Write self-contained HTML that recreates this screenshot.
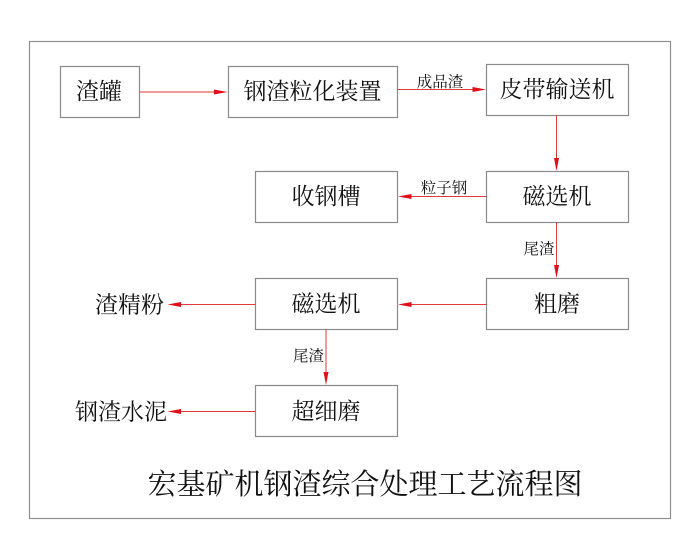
<!DOCTYPE html>
<html>
<head>
<meta charset="utf-8">
<style>
html,body{margin:0;padding:0;background:#fff;}
svg{display:block;}
text{font-family:"Noto Serif CJK SC","Noto Serif CJK JP","Noto Serif CJK TC","Liberation Serif",serif;fill:#111;}
</style>
</head>
<body>
<svg width="700" height="560" viewBox="0 0 700 560" xmlns="http://www.w3.org/2000/svg">
<rect x="0" y="0" width="700" height="560" fill="#fff"/>
<!-- frame -->
<rect x="29.5" y="41.5" width="641" height="477" fill="none" stroke="#8f8f8f" stroke-width="1.2"/>

<!-- boxes -->
<g fill="none" stroke="#8a8a8a" stroke-width="1.2">
<rect x="60.5" y="66.5" width="79" height="51"/>
<rect x="228.5" y="66.5" width="169" height="51"/>
<rect x="486.5" y="64.5" width="142" height="51"/>
<rect x="255.5" y="171.5" width="142" height="51"/>
<rect x="486.5" y="171.5" width="142" height="51"/>
<rect x="255.5" y="278.5" width="142" height="51"/>
<rect x="486.5" y="278.5" width="142" height="51"/>
<rect x="255.5" y="385.5" width="142" height="51"/>
</g>

<!-- connectors -->
<g stroke="#e23a3a" stroke-width="1" fill="none">
<line x1="139.5" y1="92" x2="216" y2="92"/>
<line x1="397.5" y1="89.5" x2="474" y2="89.5"/>
<line x1="556.5" y1="115.5" x2="556.5" y2="160"/>
<line x1="486.5" y1="196.5" x2="410" y2="196.5"/>
<line x1="556.5" y1="222.5" x2="556.5" y2="267"/>
<line x1="486.5" y1="304.5" x2="410" y2="304.5"/>
<line x1="255.5" y1="304.5" x2="180" y2="304.5"/>
<line x1="326" y1="329.5" x2="326" y2="374"/>
<line x1="255.5" y1="411.5" x2="180" y2="411.5"/>
</g>
<g fill="#e0101a">
<polygon points="227.5,92 214,89.5 214,94.5"/>
<polygon points="486,89.5 472.5,87 472.5,92"/>
<polygon points="556.5,171 554,158 559,158"/>
<polygon points="398,196.5 411.5,194 411.5,199"/>
<polygon points="556.5,278 554,265 559,265"/>
<polygon points="398,304.5 411.5,302 411.5,307"/>
<polygon points="167.5,304.5 181,302 181,307"/>
<polygon points="326,385 323.5,372 328.5,372"/>
<polygon points="167.5,411.5 181,409 181,414"/>
</g>

<!-- box labels -->
<g font-size="23" text-anchor="middle">
<text x="99" y="99">渣罐</text>
<text x="312.5" y="99">钢渣粒化装置</text>
<text x="557" y="97">皮带输送机</text>
<text x="326" y="204">收钢槽</text>
<text x="557" y="204">磁选机</text>
<text x="326" y="311.5">磁选机</text>
<text x="557" y="311.5">粗磨</text>
<text x="326" y="419">超细磨</text>
</g>
<g font-size="23" text-anchor="end">
<text x="164" y="312.5">渣精粉</text>
<text x="167" y="419.5">钢渣水泥</text>
</g>

<!-- connector labels -->
<g font-size="15.5" text-anchor="middle">
<text x="440" y="87">成品渣</text>
<text x="444" y="193">粒子钢</text>
<text x="539" y="254">尾渣</text>
<text x="308.5" y="361">尾渣</text>
</g>

<!-- title -->
<text x="365" y="494" font-size="29" text-anchor="middle">宏基矿机钢渣综合处理工艺流程图</text>
</svg>
</body>
</html>
